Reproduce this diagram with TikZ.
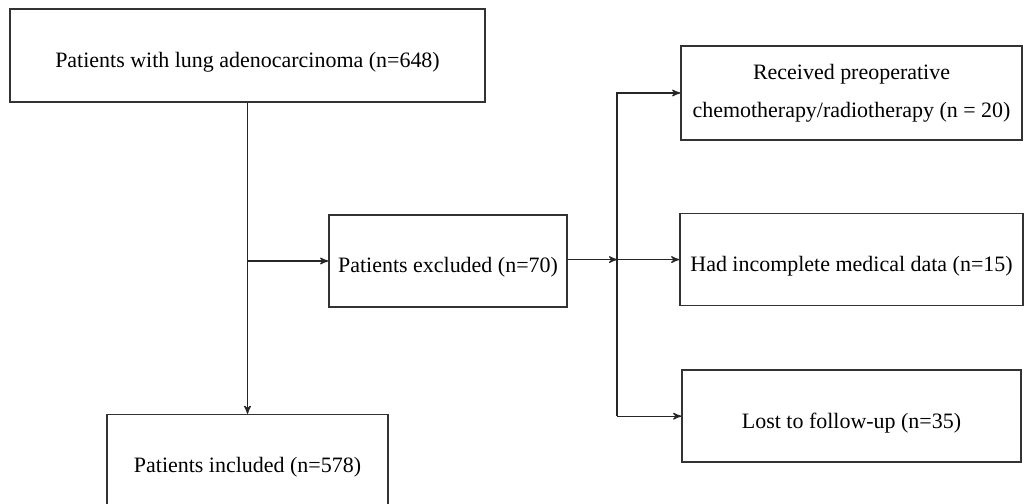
\documentclass[tikz,border=0pt]{standalone}
\usepackage{fontspec}
\setmainfont{Liberation Serif}
\usetikzlibrary{arrows,positioning,calc}
\tikzset{
    %Define standard arrow tip
    >=stealth',
    %Define style for boxes
    flowbox/.style={
           rectangle,
           draw=black!80, line width=0.9pt,
           minimum height=1.84cm,
           align=center,
           execute at begin node={\rule{0pt}{0.57cm}},
           font=\fontsize{12.5}{21.5}\selectfont},
    % Define arrow style
    flowline/.style={
           ->,
           draw=black!85,
           line width=0.7pt}
}

\begin{document}
\begin{tikzpicture}
    \useasboundingbox (0,0) rectangle (20.5,-10.08);
    \clip (0,0) rectangle (20.5,-10.08);
    % left column
    \node[flowbox, minimum width=9.5cm, minimum height=1.86cm] (cohort) at (4.95,-1.11)
        {Patients with lung adenocarcinoma (n=648)};
    \node[flowbox, minimum width=5.62cm, below=6.22cm of cohort] (included)
        {Patients included (n=578)};
    \node[flowbox, minimum width=4.76cm] (excluded) at (8.96,-5.22)
        {Patients excluded (n=70)};
    % reasons for exclusion
    \node[flowbox, minimum width=6.82cm, minimum height=1.88cm,
          execute at begin node={\rule{0pt}{0.85cm}}] (chemo) at (17.03,-1.86)
        {Received preoperative\\chemotherapy/radiotherapy (n = 20)};
    \node[flowbox, minimum width=6.86cm, below=1.44cm of chemo] (incomplete)
        {Had incomplete medical data (n=15)};
    \node[flowbox, minimum width=6.78cm, below=1.26cm of incomplete] (lost)
        {Lost to follow-up (n=35)};
    \coordinate (fork) at (12.34,0);
    % connectors
    \draw[flowline] (cohort.south) -- (included.north);
    \draw[flowline] (cohort.south |- excluded.west) -- (excluded.west);
    \draw[flowline] (excluded.east |- incomplete.west) -- (fork |- incomplete.west);
    \draw[flowline] (fork |- incomplete.west) -- (incomplete.west);
    \draw[flowline] (fork |- lost.west) -- (fork |- chemo.west) -- (chemo.west);
    \draw[flowline] (fork |- lost.west) -- (lost.west);
\end{tikzpicture}
\end{document}
